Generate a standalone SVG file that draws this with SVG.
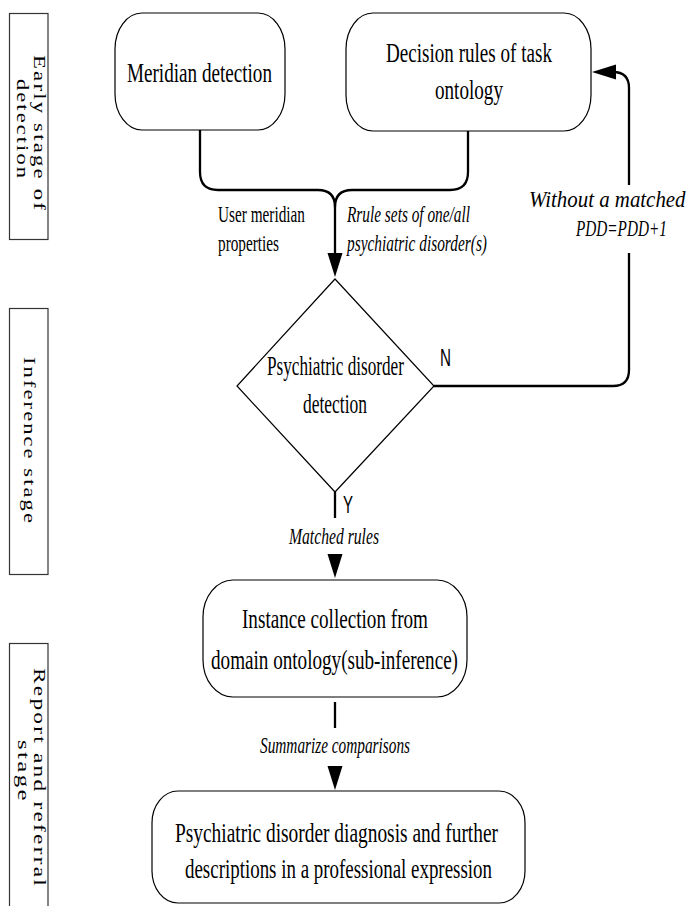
<svg xmlns="http://www.w3.org/2000/svg" width="690" height="906" viewBox="0 0 690 906">
  <style>
    .node { fill: #fff; stroke: #000; stroke-width: 1.2; }
    .stage { fill: #fff; stroke: #333; stroke-width: 1.2; }
    .conn { fill: none; stroke: #000; stroke-width: 2.3; }
    .t { font-family: "Liberation Serif", "Times New Roman", serif; font-size: 28px; fill: #000; }
    .lbl { font-family: "Liberation Serif", "Times New Roman", serif; font-size: 24px; fill: #000; }
    .it { font-style: italic; }
    .yn { font-family: "Liberation Sans", Arial, sans-serif; font-size: 24px; fill: #000; }
    .st { font-family: "Liberation Serif", "Times New Roman", serif; font-size: 16px; letter-spacing: 1.5px; fill: #000; }
  </style>
  <defs>
    <marker id="arrow" markerUnits="userSpaceOnUse" markerWidth="24" markerHeight="16" refX="14" refY="7.5" orient="auto">
      <path d="M0,0 L24,7.5 L0,15 Z" fill="#000"/>
    </marker>
  </defs>

  <!-- stage bands on the left -->
  <g id="stage-early">
    <rect class="stage" x="9.5" y="13.5" width="38.5" height="226"/>
    <text class="st" transform="translate(34,55) rotate(90)" textLength="157" lengthAdjust="spacingAndGlyphs">Early stage of</text>
    <text class="st" transform="translate(17,79) rotate(90)" textLength="101" lengthAdjust="spacingAndGlyphs">detection</text>
  </g>
  <g id="stage-inference">
    <rect class="stage" x="9.5" y="308.5" width="38.5" height="266"/>
    <text class="st" transform="translate(24,357) rotate(90)" textLength="168" lengthAdjust="spacingAndGlyphs">Inference stage</text>
  </g>
  <g id="stage-report">
    <rect class="stage" x="9.5" y="643.5" width="38.5" height="280"/>
    <text class="st" transform="translate(34,668) rotate(90)" textLength="220" lengthAdjust="spacingAndGlyphs">Report and referral</text>
    <text class="st" transform="translate(18,740) rotate(90)" textLength="63" lengthAdjust="spacingAndGlyphs">stage</text>
  </g>

  <!-- process nodes -->
  <g id="meridian-detection">
    <rect class="node" x="115" y="13" width="170" height="117" rx="27" ry="36"/>
    <text class="t" x="127" y="82" textLength="145" lengthAdjust="spacingAndGlyphs">Meridian detection</text>
  </g>
  <g id="decision-rules">
    <rect class="node" x="346" y="13" width="245" height="118" rx="27" ry="36"/>
    <text class="t" x="386" y="62" textLength="166" lengthAdjust="spacingAndGlyphs">Decision rules of task</text>
    <text class="t" x="435" y="99" textLength="68" lengthAdjust="spacingAndGlyphs">ontology</text>
  </g>
  <g id="disorder-detection">
    <polygon class="node" points="335,279 434,386 335,492 237,386"/>
    <text class="t" transform="translate(267,375) scale(0.614,1)">Psychiatric disorder</text>
    <text class="t" x="303" y="413" textLength="64" lengthAdjust="spacingAndGlyphs">detection</text>
  </g>
  <g id="instance-collection">
    <rect class="node" x="203" y="580" width="264" height="117" rx="30" ry="37"/>
    <text class="t" x="242" y="628" textLength="186" lengthAdjust="spacingAndGlyphs">Instance collection from</text>
    <text class="t" x="211" y="669" textLength="247" lengthAdjust="spacingAndGlyphs">domain ontology(sub-inference)</text>
  </g>
  <g id="diagnosis-report">
    <rect class="node" x="152" y="791" width="373" height="112" rx="26" ry="32"/>
    <text class="t" x="175" y="842" textLength="323" lengthAdjust="spacingAndGlyphs">Psychiatric disorder diagnosis and further</text>
    <text class="t" x="185" y="878" textLength="307" lengthAdjust="spacingAndGlyphs">descriptions in a professional expression</text>
  </g>

  <!-- connectors and their labels -->
  <g id="connectors">
    <path class="conn" d="M200,130 V172 Q200,190 218,190 H318 Q335,190 335,207"/>
    <path class="conn" d="M468,131 V172 Q468,190 450,190 H352 Q335,190 335,207"/>
    <path class="conn" d="M335,207 V267" marker-end="url(#arrow)"/>
    <text class="lbl" x="218" y="222" textLength="87" lengthAdjust="spacingAndGlyphs">User meridian</text>
    <text class="lbl" x="218" y="251" textLength="61" lengthAdjust="spacingAndGlyphs">properties</text>
    <text class="lbl it" x="347" y="222" textLength="123" lengthAdjust="spacingAndGlyphs">Rrule sets of one/all</text>
    <text class="lbl it" x="347" y="251" textLength="140" lengthAdjust="spacingAndGlyphs">psychiatric disorder(s)</text>

    <path class="conn" d="M434,386 H613 Q629,386 629,370 V253"/>
    <path class="conn" d="M629,185 V88 Q629,72 613,72 H602" marker-end="url(#arrow)"/>
    <text class="yn" x="440" y="366" textLength="11" lengthAdjust="spacingAndGlyphs">N</text>
    <text class="lbl it" transform="translate(529,207) scale(0.87,1)" font-size="26">Without a matched</text>
    <text class="lbl it" transform="translate(576,236) scale(0.635,1)" font-size="26">PDD=PDD+1</text>

    <path class="conn" d="M335,492 V518"/>
    <text class="yn" x="343" y="513" textLength="10" lengthAdjust="spacingAndGlyphs">Y</text>
    <text class="lbl it" x="289" y="544" textLength="90" lengthAdjust="spacingAndGlyphs">Matched rules</text>
    <path class="conn" d="M335,556 V568" marker-end="url(#arrow)"/>

    <path class="conn" d="M335,702 V728"/>
    <text class="lbl it" x="260" y="753" textLength="150" lengthAdjust="spacingAndGlyphs">Summarize comparisons</text>
    <path class="conn" d="M335,768 V780" marker-end="url(#arrow)"/>
  </g>
</svg>
